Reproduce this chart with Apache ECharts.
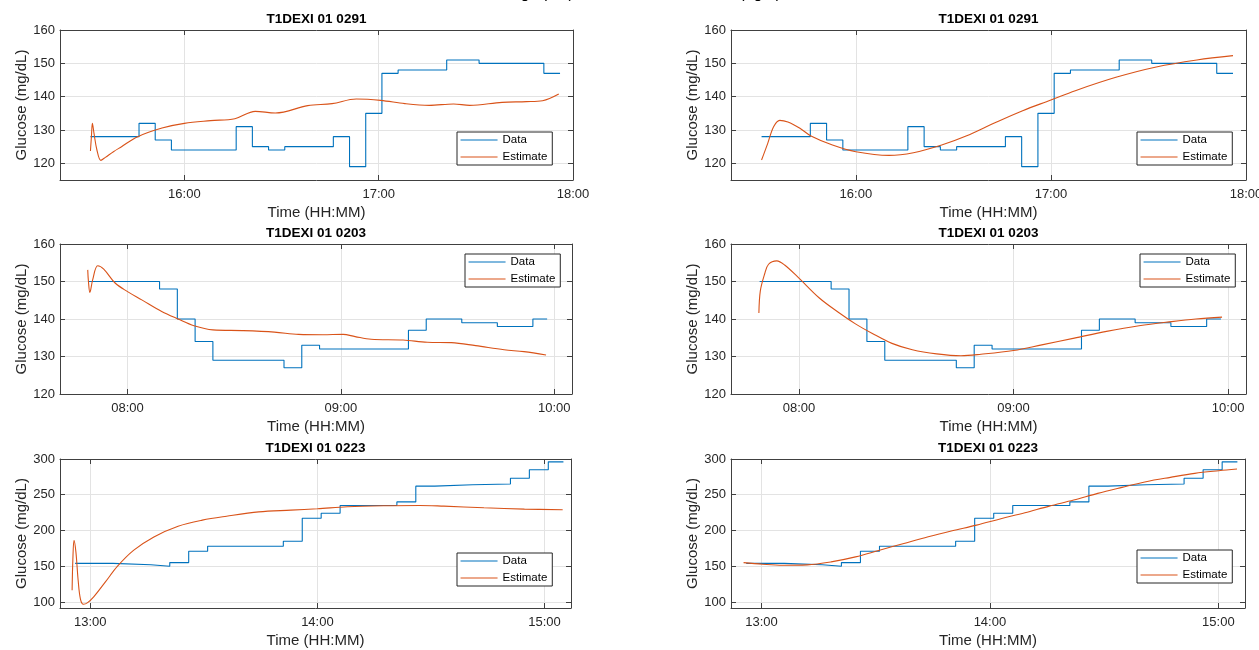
<!DOCTYPE html>
<html>
<head>
<meta charset="utf-8">
<script src="https://cdn.jsdelivr.net/npm/echarts@6/dist/echarts.min.js"></script>
<style>
  html, body { margin: 0; padding: 0; background: #fff; }
  #main { width: 1259px; height: 650px; }
</style>
</head>
<body>
<div id="main"></div>
<script>
// times are minutes since midnight, glucose in mg/dL

// T1DEXI 01 0291 (top row)
const cgmTime0291 = [931, 946, 951, 956, 976, 981, 986, 991, 1006, 1011, 1016, 1021, 1026, 1041, 1051, 1071, 1076];
const cgmGluc0291 = [128, 132, 127, 124, 131, 125, 124, 125, 128, 119, 135, 147, 148, 151, 150, 147, 147];
const estTimeL0291 = [931, 931.3, 931.6, 932.1, 933, 934.2, 935.6, 938.1, 940.6, 945.6, 953.1, 960, 968.1, 975.6, 981.9, 988.1, 998.1, 1005.6, 1013.1, 1020.6, 1028.1, 1035.6, 1043.1, 1048.1, 1058.1, 1065.6, 1070.6, 1075.6];
const estGlucL0291 = [123.7, 128, 132, 129, 124, 120.9, 121.8, 123.5, 125, 128, 130.6, 132, 132.8, 133.4, 135.6, 135.1, 137.3, 137.9, 139.3, 138.9, 137.9, 137.4, 137.8, 137.4, 138.3, 138.5, 138.8, 140.8];
const estTimeR0291 = [931, 932.9, 934.7, 936.6, 939.1, 942.8, 946.2, 952.8, 960, 970.2, 977.7, 986.4, 993.9, 1002.6, 1011.3, 1020, 1027.5, 1040, 1052.4, 1064.9, 1076];
const estGlucR0291 = [121, 126, 131, 132.9, 132.4, 130.5, 128.2, 125.5, 123.5, 122.4, 123.2, 125.5, 128.2, 132.1, 135.8, 139, 141.8, 145.8, 148.9, 151, 152.3];

// T1DEXI 01 0203 (middle row)
const cgmTime0203 = [469, 489, 494, 499, 504, 524, 529, 534, 559, 564, 574, 584, 594, 598];
const cgmGluc0203 = [150, 148, 140, 134, 129, 127, 133, 132, 137, 140, 139, 138, 140, 140];
const estTimeL0203 = [468.8, 469, 469.4, 470.2, 471.6, 473.3, 476.5, 480, 484, 489.6, 494.2, 498.7, 504, 512.3, 521.3, 528.1, 534.9, 540.6, 544, 548.5, 557.5, 564.3, 571.1, 577.9, 585.9, 591.5, 597.7];
const estGlucL0203 = [153.1, 150, 147.1, 150.5, 154.2, 153.3, 149.6, 147.3, 145.1, 142, 140, 138.2, 137.1, 136.9, 136.5, 135.9, 135.8, 135.9, 135.3, 134.6, 134.4, 133.8, 133.7, 132.9, 131.8, 131.3, 130.4];
const estTimeR0203 = [468.8, 469.2, 470.4, 471.5, 473.8, 476, 480, 485.7, 491.3, 495.8, 500.4, 506, 511.7, 518.5, 525.3, 530.9, 540, 547.9, 557, 566, 575.1, 584.2, 591, 598.3];
const estGlucR0203 = [141.6, 147.5, 152, 154.6, 155.5, 154.4, 150.9, 145.6, 141.6, 138.7, 136.2, 133.5, 131.8, 130.7, 130.2, 130.6, 131.6, 133.1, 134.9, 136.7, 138.2, 139.3, 140, 140.5];

// T1DEXI 01 0223 (bottom row)
const cgmTime0223 = [776, 786, 796, 801, 806, 811, 831, 836, 841, 846, 861, 866, 871, 881, 891, 896, 901, 905];
const cgmGluc0223 = [154, 152, 150, 155, 171, 178, 185, 217, 224, 235, 240, 262, 264, 265, 273, 285, 296, 296];
const estTimeL0223 = [775.2, 775.4, 775.7, 776.2, 776.8, 777.4, 778.2, 779.3, 780.9, 784, 787.2, 791.5, 796.8, 803.2, 809.6, 816, 824.5, 833, 840, 847.9, 857.4, 867, 873.4, 884, 894.7, 904.8];
const estGlucL0223 = [116.4, 160, 186.4, 170, 130, 104, 96.7, 99, 107, 128, 150, 172.4, 191, 206, 214.5, 220, 226, 228.5, 230.4, 233.2, 234.6, 235, 234, 231.8, 229.9, 229];
const estTimeR0223 = [775.3, 780.3, 785.6, 792, 798.3, 804.7, 811, 817.4, 823.8, 830.1, 836.5, 842.9, 849.2, 855.6, 862, 868.3, 874.7, 881, 887.4, 893.8, 900.1, 904.9];
const estGlucR0223 = [155, 152.8, 151.4, 151.9, 156, 163, 172.4, 181.8, 191.1, 199.5, 207.5, 216.4, 224.8, 234.1, 242.5, 251.9, 260.3, 268.2, 274.3, 279.9, 283.6, 286];

const FONT = '"Liberation Sans", Arial, Helvetica, sans-serif';
const TXT = '#262626';
const BLUE = '#0072BD';
const ORANGE = '#D95319';

const panels = [
    { title: 'T1DEXI 01 0291', box: [60, 30, 513, 150], x: [921.6, 1080], y: [115, 160, 10], cgm: [cgmTime0291, cgmGluc0291], est: [estTimeL0291, estGlucL0291], leg: [457, 132] },
    { title: 'T1DEXI 01 0291', box: [731, 30, 515, 150], x: [921.6, 1080], y: [115, 160, 10], cgm: [cgmTime0291, cgmGluc0291], est: [estTimeR0291, estGlucR0291], leg: [1137, 132] },
    { title: 'T1DEXI 01 0203', box: [60, 244, 512, 150], x: [461, 605], y: [120, 160, 10], cgm: [cgmTime0203, cgmGluc0203], est: [estTimeL0203, estGlucL0203], leg: [465, 254] },
    { title: 'T1DEXI 01 0203', box: [731, 244, 515, 150], x: [461, 605], y: [120, 160, 10], cgm: [cgmTime0203, cgmGluc0203], est: [estTimeR0203, estGlucR0203], leg: [1140, 254] },
    { title: 'T1DEXI 01 0223', box: [60, 459, 511, 149], x: [772, 907], y: [91.5, 300, 50], cgm: [cgmTime0223, cgmGluc0223], est: [estTimeL0223, estGlucL0223], leg: [457, 553] },
    { title: 'T1DEXI 01 0223', box: [731, 459, 514, 149], x: [772, 907], y: [91.5, 300, 50], cgm: [cgmTime0223, cgmGluc0223], est: [estTimeR0223, estGlucR0223], leg: [1137, 550] }
];

function hhmm(v) {
    if (Math.abs(v / 60 - Math.round(v / 60)) > 1e-6) return '';
    const h = Math.round(v / 60);
    return (h < 10 ? '0' : '') + h + ':00';
}

function pairs(ts, vs) {
    return ts.map((t, i) => [t, vs[i]]);
}

const grid = [], xAxis = [], yAxis = [], series = [], legend = [], graphic = [];

panels.forEach((p, i) => {
    const [left, top, width, height] = p.box;
    const step = p.y[2];
    grid.push({ left, top, width, height, show: false, containLabel: false, outerBoundsMode: 'none' });

    const xBase = {
        gridIndex: i, type: 'value', min: p.x[0], max: p.x[1],
        minInterval: 60, maxInterval: 60,
        axisLine: { show: true, onZero: false, lineStyle: { color: '#404040', width: 1 } },
        axisTick: { show: true, inside: true, length: 5, lineStyle: { color: '#404040' } }
    };
    xAxis.push(Object.assign({}, xBase, {
        position: 'bottom',
        name: 'Time (HH:MM)', nameLocation: 'middle', nameGap: 25,
        nameTextStyle: { fontFamily: FONT, fontSize: 15, color: TXT },
        axisLabel: { formatter: hhmm, margin: 8, fontFamily: FONT, fontSize: 13, color: TXT },
        splitLine: { show: true, lineStyle: { color: '#e3e3e3', width: 1 } }
    }));
    xAxis.push(Object.assign({}, xBase, {
        position: 'top', axisLabel: { show: false }, splitLine: { show: false }
    }));

    const yBase = {
        gridIndex: i, type: 'value', min: p.y[0], max: p.y[1],
        minInterval: step, maxInterval: step,
        axisLine: { show: true, onZero: false, lineStyle: { color: '#404040', width: 1 } },
        axisTick: { show: true, inside: true, length: 5, lineStyle: { color: '#404040' } }
    };
    yAxis.push(Object.assign({}, yBase, {
        position: 'left',
        name: 'Glucose (mg/dL)', nameLocation: 'middle', nameGap: 31,
        nameTextStyle: { fontFamily: FONT, fontSize: 15, color: TXT },
        axisLabel: {
            margin: 5, fontFamily: FONT, fontSize: 13, color: TXT,
            formatter: v => (Math.abs(v / step - Math.round(v / step)) < 1e-6 ? String(v) : '')
        },
        splitLine: { show: true, lineStyle: { color: '#e3e3e3', width: 1 } }
    }));
    yAxis.push(Object.assign({}, yBase, {
        position: 'right', axisLabel: { show: false }, splitLine: { show: false }
    }));

    series.push({
        name: 'Data', type: 'line', xAxisIndex: 2 * i, yAxisIndex: 2 * i,
        data: pairs(p.cgm[0], p.cgm[1]), step: 'end', symbol: 'none', showSymbol: false,
        lineStyle: { color: BLUE, width: 1.1 }, itemStyle: { color: BLUE },
        animation: false, z: 3
    });
    series.push({
        name: 'Estimate', type: 'line', xAxisIndex: 2 * i, yAxisIndex: 2 * i,
        data: pairs(p.est[0], p.est[1]), smooth: 0.35, symbol: 'none', showSymbol: false,
        lineStyle: { color: ORANGE, width: 1.1 }, itemStyle: { color: ORANGE },
        animation: false, z: 4
    });

    legend.push({
        left: p.leg[0], top: p.leg[1], orient: 'vertical',
        data: ['Data', 'Estimate'],
        itemWidth: 37, itemHeight: 12, itemGap: 5,
        padding: [2, 5, 2, 3],
        backgroundColor: '#fff', borderColor: '#262626', borderWidth: 1, borderRadius: 0,
        selectedMode: false,
        itemStyle: { opacity: 0 },
        lineStyle: { width: 1.1 },
        textStyle: { fontFamily: FONT, fontSize: 11.5, color: '#000' }
    });

    graphic.push({
        type: 'text', x: left + width / 2, y: top - 11,
        style: {
            text: p.title, textAlign: 'center', textVerticalAlign: 'middle',
            font: 'bold 13.5px ' + FONT, fill: '#000'
        }
    });
});

// figure title, almost entirely above the visible area
graphic.push({
    type: 'text', x: 781, y: -6,
    style: {
        text: 'Default settings (left) and estimated models (right)',
        textAlign: 'right', textVerticalAlign: 'middle',
        font: '16px ' + FONT, fill: '#000'
    }
});

const myChart = echarts.init(document.getElementById('main'), null, { renderer: 'canvas' });
myChart.setOption({
    animation: false,
    backgroundColor: '#fff',
    grid, xAxis, yAxis, series, legend, graphic
});
</script>
</body>
</html>
